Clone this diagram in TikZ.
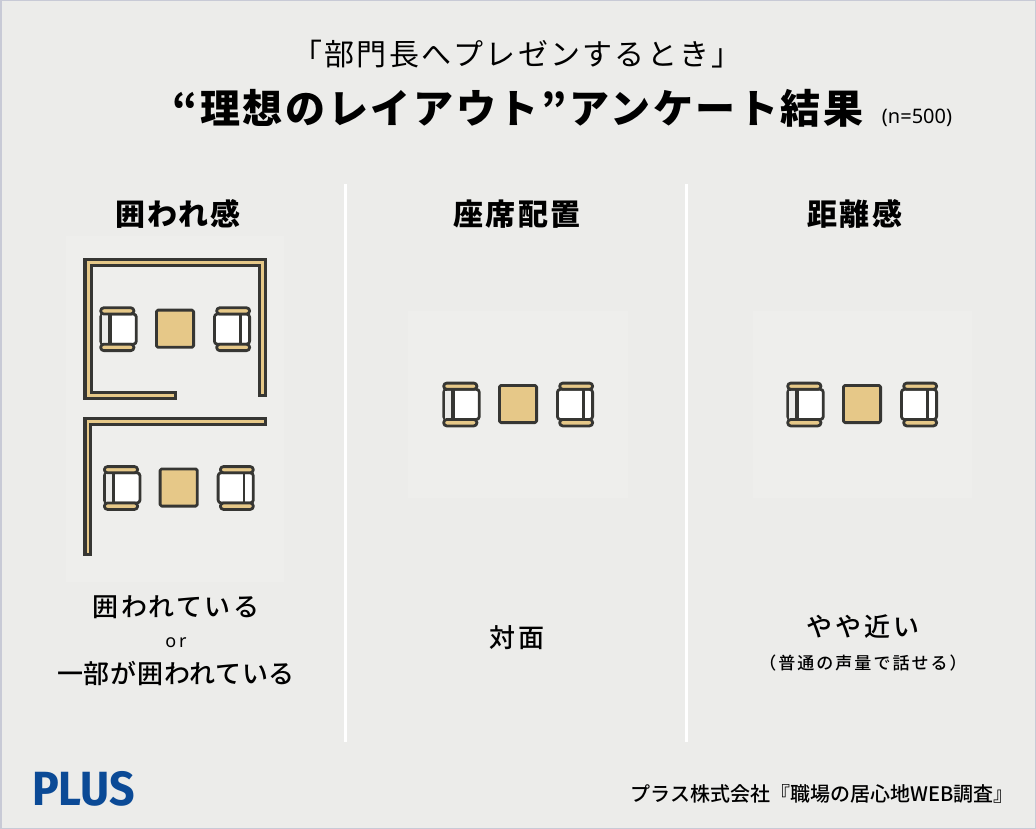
\documentclass[tikz,border=0pt]{standalone}
\usepackage{fontspec}
\setmainfont{Noto Sans CJK JP}
\newfontfamily\jpblack{Noto Sans CJK JP Black}
\newfontfamily\jpmed{Noto Sans CJK JP Medium}
\newfontfamily\lat{Noto Sans}
\newfontfamily\logofont[FakeStretch=0.93]{Fira Sans Bold}
\definecolor{bgc}{HTML}{ECECEA}
\definecolor{panelc}{HTML}{EEEEEC}
\definecolor{edgec}{HTML}{C8CAD6}
\definecolor{ink}{HTML}{363633}
\definecolor{tan}{HTML}{E6C888}
\definecolor{softc}{HTML}{ECECEA}
\definecolor{plusc}{HTML}{0B4A96}
\tikzset{
  x=1pt,y=-1pt,
  part/.style={draw=ink,line width=2.8pt,line join=round},
  wall/.style={draw=ink,line width=3.2pt,line join=miter,fill=tan},
  panel/.style={fill=panelc,draw=none},
  rule/.style={draw=white,line width=3pt},
  txt/.style={inner sep=0pt,text=black},
}
\newcommand{\seatgroup}[2]{%
\begin{scope}[shift={(#1,#2)}]
  \draw[part,fill=tan,rounded corners=1.5pt] (-18.6,-18.6) rectangle (18.6,18.6);
  \draw[part,fill=white,rounded corners=3pt] (-74.3,-14.7) rectangle (-38.7,15.5);
  \fill[softc] (-72.9,-13.5) rectangle (-65.3,14.5);
  \draw[ink,line width=3.8pt] (-65.3,-14.7) -- (-65.3,15.5);
  \draw[part,fill=tan,rounded corners=3pt] (-74.3,-20.9) rectangle (-41.1,-14.7);
  \draw[part,fill=tan,rounded corners=3pt] (-74.3,15.5) rectangle (-41.1,21.9);
  \draw[part,fill=white,rounded corners=3pt] (39.4,-14.7) rectangle (74.6,15.5);
  \draw[ink,line width=2.8pt] (65.3,-14.7) -- (65.3,15.5);
  \draw[part,fill=tan,rounded corners=3pt] (41.7,-20.9) rectangle (74.6,-14.7);
  \draw[part,fill=tan,rounded corners=3pt] (41.7,15.5) rectangle (74.6,21.9);
\end{scope}}
\newcommand{\spaced}[2]{\addfontfeature{LetterSpace=#1}#2}
\begin{document}
\begin{tikzpicture}
\useasboundingbox (0,0) rectangle (1036,829);
\fill[edgec] (0,0) rectangle (1036,829);
\fill[bgc] (1.5,1.5) rectangle (1034.5,827.5);
\fill[panel] (66,236) rectangle (284,582);
\fill[panel] (408,311) rectangle (628,498);
\fill[panel] (753,311) rectangle (972,498);
\draw[rule] (345,184) -- (345,742);
\draw[rule] (686,184) -- (686,742);
\node[txt,font=\fontsize{30}{32}\selectfont] (t1) at (517,54) {\spaced{7.5}{「部門長へプレゼンするとき」}};
\node[txt,font=\jpblack\fontsize{40}{42}\selectfont] (t2) at (518,108) {\spaced{6.6}{“理想のレイアウト”アンケート結果}};
\node[txt,font=\lat\fontsize{20}{24}\selectfont] (t3) at (917,118) {(n=500)};
\node[txt,font=\jpblack\fontsize{30}{32}\selectfont] (h1) at (178,214) {\spaced{8}{囲われ感}};
\node[txt,font=\jpblack\fontsize{30}{32}\selectfont] (h2) at (517,214) {\spaced{7}{座席配置}};
\node[txt,font=\jpblack\fontsize{30}{32}\selectfont] (h3) at (855,214) {\spaced{7}{距離感}};
\draw[wall] (84.9,259.3) -- (265.1,259.3) -- (265.1,395.1) -- (259.6,395.1) -- (259.6,265.1) -- (91.1,265.1) -- (91.1,392.6) -- (175.1,392.6) -- (175.1,398.4) -- (84.9,398.4) -- cycle;
\draw[wall] (84.9,418.3) -- (265.1,418.3) -- (265.1,424.1) -- (90.7,424.1) -- (90.7,554.1) -- (84.9,554.1) -- cycle;
\seatgroup{175}{328.7}
\seatgroup{178.7}{487.5}
\seatgroup{518}{404}
\seatgroup{862}{404}
\node[txt,font=\jpmed\fontsize{26}{30}\selectfont] (c1) at (176,607) {\spaced{9.5}{囲われている}};
\node[txt,font=\lat\fontsize{18}{22}\selectfont] (c2) at (176,642.5) {o\,r};
\node[txt,font=\jpmed\fontsize{26}{30}\selectfont] (c3) at (176,674) {\spaced{2.8}{一部が囲われている}};
\node[txt,font=\jpmed\fontsize{26}{30}\selectfont] (c4) at (517,638) {\spaced{8}{対面}};
\node[txt,font=\jpmed\fontsize{26}{30}\selectfont] (c5) at (863,627) {\spaced{11}{やや近い}};
\node[txt,font=\jpmed\fontsize{17}{20}\selectfont] (c6) at (863,663) {\spaced{12}{（普通の声量で話せる）}};
\node[txt,font=\logofont\fontsize{48}{50}\selectfont,text=plusc] (logo) at (83.5,789) {PLUS};
\node[txt,font=\jpmed\fontsize{20}{24}\selectfont,anchor=east] (src) at (1014,794) {プラス株式会社『職場の居心地WEB調査』};
\end{tikzpicture}
\end{document}
